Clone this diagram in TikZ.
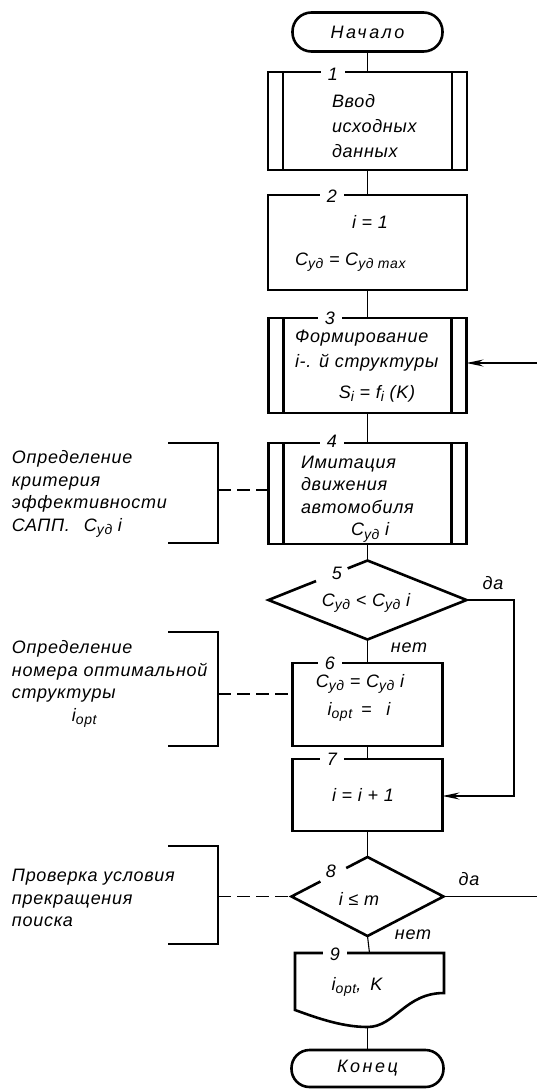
\documentclass[tikz,border=0pt]{standalone}
\usepackage{fontspec}
\setmainfont{Liberation Sans}[LetterSpace=4]
\usetikzlibrary{shapes.geometric,arrows.meta,calc}
\newcommand\sbx[1]{\raisebox{-0.35ex}{\fontsize{14}{14}\selectfont #1}}
\begin{document}
\begin{tikzpicture}[x=1pt,y=-1pt,
  every node/.style={font=\itshape\fontsize{18}{22.5}\selectfont},
  blk/.style={draw, line width=2.6pt, rectangle, inner sep=0, outer sep=0},
  term/.style={blk, minimum width=150pt, minimum height=39pt, rounded corners=19pt,
    font=\itshape\fontsize{18}{22.5}\selectfont\addfontfeature{LetterSpace=14}},
  frame/.style={line width=2.6pt, line join=miter},
  dia/.style={diamond, draw=none, inner sep=0, outer sep=0},
  ln/.style={line width=1.1pt},
  dsh/.style={ln, dash pattern=on 13pt off 6pt},
  arr/.style={ln, -{Stealth[length=17pt,width=7pt,inset=6pt]}},
  num/.style={fill=white, inner xsep=7pt, inner ysep=0pt},
  txt/.style={inner sep=0, outer sep=0, align=left},
  lbl/.style={inner sep=0}]
\useasboundingbox (0,0) rectangle (537,1090);

% terminators
\node[term] (start) at (367.5,32) {Начало};
\node[term, minimum width=152pt, minimum height=37pt, rounded corners=18pt] (end) at (367.5,1068.5) {Конец};

% box 1 (subroutine)
\node[blk, minimum width=199pt, minimum height=98pt] (box1) at (367.5,121) {};
\draw[frame] ([xshift=15pt]box1.north west) -- ([xshift=15pt]box1.south west)
             ([xshift=-15pt]box1.north east) -- ([xshift=-15pt]box1.south east);
\node[txt, anchor=west, font=\itshape\fontsize{18}{25}\selectfont] (t1) at (332,126) {Ввод\\исходных\\данных};

% box 2
\node[blk, minimum width=199pt, minimum height=95pt] (box2) at (367.5,242.5) {};
\node[txt] (t2a) at (370,222) {i = 1};
\node[txt, anchor=west] (t2b) at (295,262) {C\sbx{уд} = C\sbx{уд max}};

% box 3 (subroutine)
\node[blk, minimum width=198pt, minimum height=95pt] (box3) at (367.5,365.5) {};
\draw[frame] ([xshift=15pt]box3.north west) -- ([xshift=15pt]box3.south west)
             ([xshift=-15pt]box3.north east) -- ([xshift=-15pt]box3.south east);
\node[txt, anchor=west] (t3a) at (295,338) {Формирование};
\node[txt, anchor=west] (t3b) at (295,363) {i-. й структуры};
\node[txt] (t3c) at (377,394) {S\sbx{i} = f\sbx{i} (K)};

% box 4 (subroutine)
\node[blk, minimum width=198pt, minimum height=101pt] (box4) at (367.5,493.5) {};
\draw[frame] ([xshift=15pt]box4.north west) -- ([xshift=15pt]box4.south west)
             ([xshift=-15pt]box4.north east) -- ([xshift=-15pt]box4.south east);
\node[txt, anchor=west] (t4) at (301,499) {Имитация\\движения\\автомобиля\\\hspace*{50pt}C\sbx{уд} i};

% diamond 5
\node[dia, minimum width=198pt, minimum height=79pt] (d5) at (367.5,600) {};
\draw[frame] ($(d5.west)!0.8!(d5.north)$) -- (d5.north) -- (d5.east) -- (d5.south) -- (d5.west) -- ($(d5.west)!0.48!(d5.north)$);
\node[txt] (t5) at (366,603) {C\sbx{уд} < C\sbx{уд} i};

% box 6
\node[blk, minimum width=150pt, minimum height=83pt] (box6) at (367.5,704.5) {};
\node[txt] (t6a) at (360,684) {C\sbx{уд} = C\sbx{уд} i};
\node[txt] (t6b) at (359,712) {i\sbx{opt}\enspace = \enspace i};

% box 7
\node[blk, minimum width=150pt, minimum height=72pt] (box7) at (367.5,795) {};
\node[txt] (t7) at (363,795) {i = i + 1};

% diamond 8
\node[dia, minimum width=152pt, minimum height=79pt] (d8) at (367.5,896.5) {};
\draw[frame] ($(d8.west)!0.72!(d8.north)$) -- (d8.north) -- (d8.east) -- (d8.south) -- (d8.west) -- ($(d8.west)!0.38!(d8.north)$);
\node[txt] (t8) at (359,899) {i ≤ m};

% box 9 (document)
\node[rectangle, draw=none, inner sep=0, outer sep=0, minimum width=149pt, minimum height=74pt] (box9) at (369.5,990) {};
\draw[frame] (295,1010) -- (295,953) -- (444,953) -- (444,993)
  .. controls (405,993) and (395,1027) .. (367.5,1027)
  .. controls (340,1027) and (312,1016) .. (295,1010) -- cycle;
\coordinate (b9b) at (367.5,1027);
\node[txt] (t9) at (357,987) {i\sbx{opt},\enspace K};

% numbers
\node[num] (n1) at (333,74) {1};
\node[num] (n2) at (332,196) {2};
\node[num] (n3) at (330,318) {3};
\node[num] (n4) at (332,441) {4};
\node[lbl] (n5) at (337,573) {5};
\node[num] (n6) at (330,663) {6};
\node[num] (n7) at (332,759) {7};
\node[lbl] (n8) at (331,871) {8};
\node[num] (n9) at (335,954) {9};

% main connectors
\draw[ln] (start.south) -- (box1.north);
\draw[ln] (box1.south) -- (box2.north);
\draw[ln] (box2.south) -- (box3.north);
\draw[ln] (box3.south) -- (box4.north);
\draw[ln] (box4.south) -- (d5.north);
\draw[ln] (d5.south) -- (box6.north);
\draw[ln] (box6.south) -- (box7.north);
\draw[ln] (box7.south) -- (d8.north);
\draw[ln] (d8.south) -- (box9.north);
\draw[ln] (b9b) -- (end.north);

% loops
\coordinate (in3) at (537,363);
\draw[arr] (in3) -- (in3 -| box3.east);
\coordinate (c5) at (514,796);
\draw[arr] (d5.east) -| (c5) -- (c5 -| box7.east);
\coordinate (out8) at (537,896.5);
\draw[ln] (d8.east) -- (out8);

% branch labels
\node[lbl] (y5) at (493,583) {да};
\node[lbl] (no5) at (409,648) {нет};
\node[lbl] (y8) at (469,879) {да};
\node[lbl] (no8) at (413,935) {нет};

% comments
\draw[frame] (168,443) -- (218,443) -- (218,543) -- (168,543);
\coordinate (br1) at (218,490);
\draw[dsh] (br1) -- (br1 -| box4.west);
\node[txt, anchor=west] (c1) at (12,494) {Определение\\критерия\\эффективности\\САПП.\hspace{14pt}C\sbx{уд} i};

\draw[frame] (168,632) -- (218,632) -- (218,746) -- (168,746);
\coordinate (br2) at (218,694);
\draw[dsh] (br2) -- (br2 -| box6.west);
\node[txt, anchor=west] (c2) at (12,684) {Определение\\номера оптимальной\\структуры\\\hspace*{60pt}i\sbx{opt}};

\draw[frame] (168,846) -- (218,846) -- (218,944) -- (168,944);
\coordinate (br3) at (218,896.5);
\draw[dsh] (br3) -- (d8.west);
\node[txt, anchor=west] (c3) at (12,898) {Проверка условия\\прекращения\\поиска};
\end{tikzpicture}
\end{document}
